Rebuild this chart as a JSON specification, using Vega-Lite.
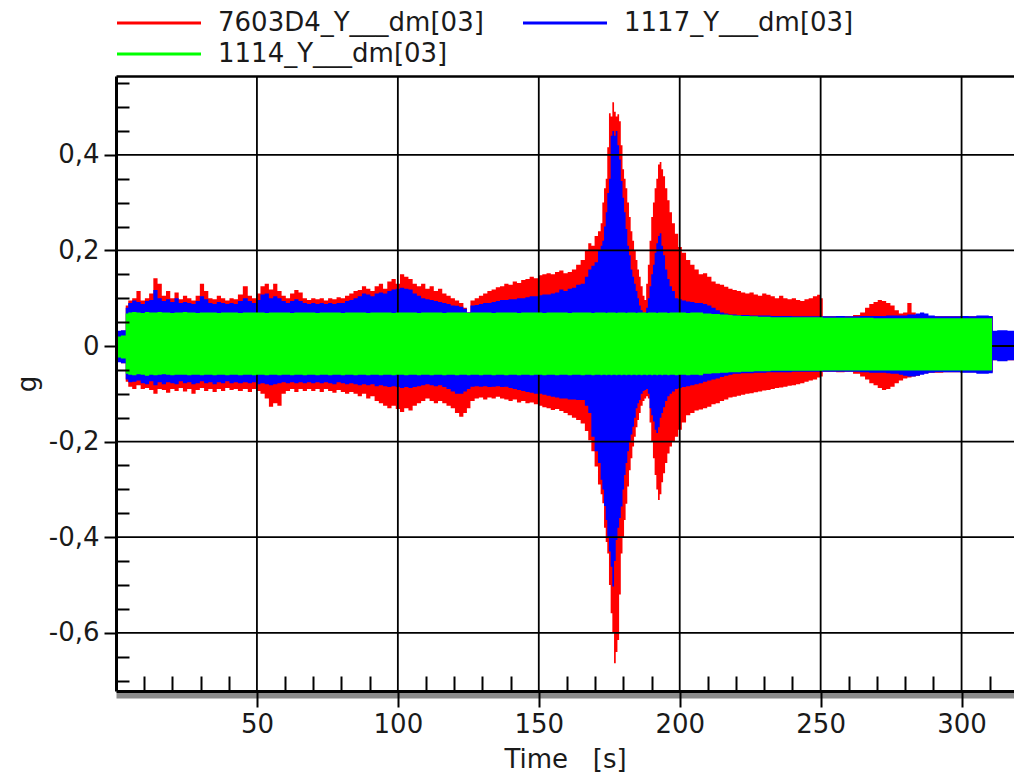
{
  "$schema": "https://vega.github.io/schema/vega-lite/v6.json",
  "width": 898,
  "height": 615,
  "autosize": {"type": "none"},
  "padding": {"left": 116, "top": 76, "right": 0, "bottom": 86},
  "background": "white",
  "config": {
    "view": {"stroke": null},
    "font": "DejaVu Sans",
    "axis": {"labelFont": "DejaVu Sans", "titleFont": "DejaVu Sans"},
    "legend": {"labelFont": "DejaVu Sans"}
  },
  "datasets": {
    "sig": [
      {"t":0.3,"rh":0.03,"rl":-0.032,"bh":0.032,"bl":-0.034,"gh":0.02,"gl":-0.024},
      {"t":3.2,"rh":0.032,"rl":-0.036,"bh":0.033,"bl":-0.036,"gh":0.022,"gl":-0.026},
      {"t":3.7,"rh":0.085,"rl":-0.075,"bh":0.08,"bl":-0.07,"gh":0.068,"gl":-0.058},
      {"t":5,"rh":0.095,"rl":-0.085,"bh":0.09,"bl":-0.076,"gh":0.07,"gl":-0.06},
      {"t":6.5,"rh":0.1,"rl":-0.09,"bh":0.095,"bl":-0.075,"gh":0.071,"gl":-0.061},
      {"t":8,"rh":0.115,"rl":-0.082,"bh":0.092,"bl":-0.072,"gh":0.07,"gl":-0.059},
      {"t":9.5,"rh":0.095,"rl":-0.09,"bh":0.088,"bl":-0.078,"gh":0.069,"gl":-0.06},
      {"t":11,"rh":0.1,"rl":-0.088,"bh":0.094,"bl":-0.08,"gh":0.071,"gl":-0.062},
      {"t":12.5,"rh":0.11,"rl":-0.092,"bh":0.096,"bl":-0.074,"gh":0.07,"gl":-0.06},
      {"t":14,"rh":0.142,"rl":-0.1,"bh":0.117,"bl":-0.082,"gh":0.07,"gl":-0.061},
      {"t":15.5,"rh":0.13,"rl":-0.09,"bh":0.1,"bl":-0.076,"gh":0.071,"gl":-0.06},
      {"t":17,"rh":0.105,"rl":-0.092,"bh":0.094,"bl":-0.08,"gh":0.07,"gl":-0.059},
      {"t":18.5,"rh":0.115,"rl":-0.098,"bh":0.098,"bl":-0.076,"gh":0.07,"gl":-0.06},
      {"t":20,"rh":0.1,"rl":-0.09,"bh":0.092,"bl":-0.078,"gh":0.069,"gl":-0.061},
      {"t":21.5,"rh":0.112,"rl":-0.094,"bh":0.1,"bl":-0.08,"gh":0.07,"gl":-0.06},
      {"t":23,"rh":0.098,"rl":-0.088,"bh":0.09,"bl":-0.074,"gh":0.07,"gl":-0.06},
      {"t":24.5,"rh":0.105,"rl":-0.095,"bh":0.092,"bl":-0.078,"gh":0.071,"gl":-0.06},
      {"t":26,"rh":0.1,"rl":-0.09,"bh":0.09,"bl":-0.076,"gh":0.07,"gl":-0.061},
      {"t":27.5,"rh":0.095,"rl":-0.1,"bh":0.088,"bl":-0.08,"gh":0.07,"gl":-0.06},
      {"t":29,"rh":0.105,"rl":-0.092,"bh":0.094,"bl":-0.078,"gh":0.069,"gl":-0.06},
      {"t":30.5,"rh":0.13,"rl":-0.088,"bh":0.104,"bl":-0.074,"gh":0.07,"gl":-0.061},
      {"t":32,"rh":0.115,"rl":-0.094,"bh":0.098,"bl":-0.078,"gh":0.07,"gl":-0.06},
      {"t":33.5,"rh":0.1,"rl":-0.09,"bh":0.09,"bl":-0.076,"gh":0.07,"gl":-0.06},
      {"t":35,"rh":0.098,"rl":-0.096,"bh":0.088,"bl":-0.08,"gh":0.07,"gl":-0.061},
      {"t":36.5,"rh":0.105,"rl":-0.09,"bh":0.092,"bl":-0.076,"gh":0.069,"gl":-0.06},
      {"t":38,"rh":0.1,"rl":-0.094,"bh":0.09,"bl":-0.078,"gh":0.07,"gl":-0.06},
      {"t":39.5,"rh":0.095,"rl":-0.088,"bh":0.088,"bl":-0.074,"gh":0.07,"gl":-0.061},
      {"t":41,"rh":0.1,"rl":-0.092,"bh":0.09,"bl":-0.078,"gh":0.07,"gl":-0.06},
      {"t":42.5,"rh":0.098,"rl":-0.09,"bh":0.088,"bl":-0.076,"gh":0.07,"gl":-0.06},
      {"t":44,"rh":0.108,"rl":-0.094,"bh":0.094,"bl":-0.078,"gh":0.069,"gl":-0.061},
      {"t":46,"rh":0.125,"rl":-0.09,"bh":0.1,"bl":-0.076,"gh":0.07,"gl":-0.06},
      {"t":47.5,"rh":0.105,"rl":-0.096,"bh":0.094,"bl":-0.078,"gh":0.07,"gl":-0.06},
      {"t":49,"rh":0.1,"rl":-0.09,"bh":0.09,"bl":-0.076,"gh":0.07,"gl":-0.061},
      {"t":50.5,"rh":0.11,"rl":-0.094,"bh":0.096,"bl":-0.08,"gh":0.07,"gl":-0.06},
      {"t":52,"rh":0.125,"rl":-0.1,"bh":0.108,"bl":-0.078,"gh":0.07,"gl":-0.06},
      {"t":53.5,"rh":0.13,"rl":-0.11,"bh":0.11,"bl":-0.08,"gh":0.069,"gl":-0.061},
      {"t":55,"rh":0.118,"rl":-0.127,"bh":0.1,"bl":-0.082,"gh":0.07,"gl":-0.06},
      {"t":56.5,"rh":0.13,"rl":-0.12,"bh":0.104,"bl":-0.08,"gh":0.07,"gl":-0.06},
      {"t":58,"rh":0.115,"rl":-0.125,"bh":0.1,"bl":-0.078,"gh":0.07,"gl":-0.061},
      {"t":59.5,"rh":0.105,"rl":-0.1,"bh":0.094,"bl":-0.076,"gh":0.07,"gl":-0.06},
      {"t":61,"rh":0.1,"rl":-0.094,"bh":0.09,"bl":-0.078,"gh":0.07,"gl":-0.06},
      {"t":62.5,"rh":0.11,"rl":-0.09,"bh":0.094,"bl":-0.076,"gh":0.069,"gl":-0.061},
      {"t":64,"rh":0.117,"rl":-0.096,"bh":0.098,"bl":-0.078,"gh":0.07,"gl":-0.06},
      {"t":65.5,"rh":0.112,"rl":-0.09,"bh":0.094,"bl":-0.076,"gh":0.07,"gl":-0.06},
      {"t":67,"rh":0.1,"rl":-0.094,"bh":0.09,"bl":-0.078,"gh":0.07,"gl":-0.061},
      {"t":68.5,"rh":0.096,"rl":-0.09,"bh":0.088,"bl":-0.076,"gh":0.07,"gl":-0.06},
      {"t":70,"rh":0.1,"rl":-0.094,"bh":0.09,"bl":-0.078,"gh":0.07,"gl":-0.06},
      {"t":71.5,"rh":0.098,"rl":-0.09,"bh":0.088,"bl":-0.076,"gh":0.069,"gl":-0.061},
      {"t":73,"rh":0.1,"rl":-0.096,"bh":0.09,"bl":-0.078,"gh":0.07,"gl":-0.06},
      {"t":74.5,"rh":0.095,"rl":-0.09,"bh":0.088,"bl":-0.076,"gh":0.07,"gl":-0.06},
      {"t":76,"rh":0.1,"rl":-0.094,"bh":0.09,"bl":-0.078,"gh":0.07,"gl":-0.061},
      {"t":77.5,"rh":0.098,"rl":-0.098,"bh":0.088,"bl":-0.08,"gh":0.07,"gl":-0.06},
      {"t":79,"rh":0.102,"rl":-0.092,"bh":0.09,"bl":-0.076,"gh":0.07,"gl":-0.06},
      {"t":80.5,"rh":0.1,"rl":-0.096,"bh":0.09,"bl":-0.078,"gh":0.069,"gl":-0.061},
      {"t":82,"rh":0.105,"rl":-0.1,"bh":0.094,"bl":-0.08,"gh":0.07,"gl":-0.06},
      {"t":83.5,"rh":0.11,"rl":-0.096,"bh":0.096,"bl":-0.078,"gh":0.07,"gl":-0.06},
      {"t":85,"rh":0.115,"rl":-0.1,"bh":0.1,"bl":-0.08,"gh":0.07,"gl":-0.061},
      {"t":86.5,"rh":0.117,"rl":-0.105,"bh":0.104,"bl":-0.082,"gh":0.07,"gl":-0.06},
      {"t":88,"rh":0.125,"rl":-0.1,"bh":0.11,"bl":-0.08,"gh":0.07,"gl":-0.06},
      {"t":89.5,"rh":0.12,"rl":-0.11,"bh":0.108,"bl":-0.082,"gh":0.069,"gl":-0.061},
      {"t":91,"rh":0.115,"rl":-0.105,"bh":0.104,"bl":-0.08,"gh":0.07,"gl":-0.06},
      {"t":92.5,"rh":0.125,"rl":-0.115,"bh":0.11,"bl":-0.084,"gh":0.07,"gl":-0.06},
      {"t":94,"rh":0.13,"rl":-0.12,"bh":0.112,"bl":-0.082,"gh":0.07,"gl":-0.061},
      {"t":95.5,"rh":0.12,"rl":-0.125,"bh":0.11,"bl":-0.084,"gh":0.07,"gl":-0.06},
      {"t":97,"rh":0.135,"rl":-0.13,"bh":0.115,"bl":-0.086,"gh":0.07,"gl":-0.06},
      {"t":98.5,"rh":0.14,"rl":-0.125,"bh":0.118,"bl":-0.084,"gh":0.069,"gl":-0.061},
      {"t":100,"rh":0.13,"rl":-0.132,"bh":0.12,"bl":-0.086,"gh":0.07,"gl":-0.06},
      {"t":101.5,"rh":0.15,"rl":-0.138,"bh":0.122,"bl":-0.088,"gh":0.07,"gl":-0.06},
      {"t":103,"rh":0.145,"rl":-0.13,"bh":0.12,"bl":-0.086,"gh":0.07,"gl":-0.061},
      {"t":104.5,"rh":0.14,"rl":-0.135,"bh":0.118,"bl":-0.088,"gh":0.07,"gl":-0.06},
      {"t":106,"rh":0.13,"rl":-0.125,"bh":0.11,"bl":-0.086,"gh":0.07,"gl":-0.06},
      {"t":107.5,"rh":0.125,"rl":-0.12,"bh":0.105,"bl":-0.084,"gh":0.069,"gl":-0.061},
      {"t":109,"rh":0.13,"rl":-0.115,"bh":0.1,"bl":-0.082,"gh":0.07,"gl":-0.06},
      {"t":110.5,"rh":0.12,"rl":-0.11,"bh":0.098,"bl":-0.08,"gh":0.07,"gl":-0.06},
      {"t":112,"rh":0.125,"rl":-0.115,"bh":0.096,"bl":-0.082,"gh":0.07,"gl":-0.061},
      {"t":113.5,"rh":0.115,"rl":-0.12,"bh":0.094,"bl":-0.084,"gh":0.07,"gl":-0.06},
      {"t":115,"rh":0.12,"rl":-0.115,"bh":0.092,"bl":-0.082,"gh":0.07,"gl":-0.06},
      {"t":116.5,"rh":0.11,"rl":-0.12,"bh":0.09,"bl":-0.086,"gh":0.069,"gl":-0.061},
      {"t":118,"rh":0.105,"rl":-0.125,"bh":0.088,"bl":-0.09,"gh":0.07,"gl":-0.06},
      {"t":119.5,"rh":0.1,"rl":-0.13,"bh":0.085,"bl":-0.095,"gh":0.07,"gl":-0.06},
      {"t":121,"rh":0.095,"rl":-0.14,"bh":0.084,"bl":-0.1,"gh":0.07,"gl":-0.061},
      {"t":122.5,"rh":0.09,"rl":-0.148,"bh":0.082,"bl":-0.1,"gh":0.07,"gl":-0.06},
      {"t":124,"rh":0.08,"rl":-0.14,"bh":0.078,"bl":-0.095,"gh":0.07,"gl":-0.06},
      {"t":125,"rh":0.07,"rl":-0.13,"bh":0.07,"bl":-0.09,"gh":0.069,"gl":-0.061},
      {"t":126.5,"rh":0.095,"rl":-0.115,"bh":0.085,"bl":-0.085,"gh":0.07,"gl":-0.06},
      {"t":128,"rh":0.1,"rl":-0.11,"bh":0.086,"bl":-0.084,"gh":0.07,"gl":-0.06},
      {"t":129.5,"rh":0.105,"rl":-0.108,"bh":0.088,"bl":-0.085,"gh":0.07,"gl":-0.061},
      {"t":131,"rh":0.11,"rl":-0.112,"bh":0.09,"bl":-0.084,"gh":0.07,"gl":-0.06},
      {"t":132.5,"rh":0.115,"rl":-0.108,"bh":0.09,"bl":-0.086,"gh":0.07,"gl":-0.06},
      {"t":134,"rh":0.118,"rl":-0.11,"bh":0.092,"bl":-0.085,"gh":0.069,"gl":-0.061},
      {"t":135.5,"rh":0.123,"rl":-0.106,"bh":0.094,"bl":-0.084,"gh":0.07,"gl":-0.06},
      {"t":137,"rh":0.125,"rl":-0.11,"bh":0.096,"bl":-0.086,"gh":0.07,"gl":-0.06},
      {"t":138.5,"rh":0.13,"rl":-0.112,"bh":0.096,"bl":-0.085,"gh":0.07,"gl":-0.061},
      {"t":140,"rh":0.128,"rl":-0.115,"bh":0.098,"bl":-0.088,"gh":0.07,"gl":-0.06},
      {"t":141.5,"rh":0.135,"rl":-0.112,"bh":0.098,"bl":-0.09,"gh":0.07,"gl":-0.06},
      {"t":143,"rh":0.132,"rl":-0.118,"bh":0.1,"bl":-0.092,"gh":0.069,"gl":-0.061},
      {"t":144.5,"rh":0.138,"rl":-0.115,"bh":0.1,"bl":-0.094,"gh":0.07,"gl":-0.06},
      {"t":146,"rh":0.14,"rl":-0.12,"bh":0.102,"bl":-0.096,"gh":0.07,"gl":-0.06},
      {"t":147.5,"rh":0.145,"rl":-0.118,"bh":0.104,"bl":-0.098,"gh":0.07,"gl":-0.061},
      {"t":149,"rh":0.142,"rl":-0.122,"bh":0.104,"bl":-0.1,"gh":0.07,"gl":-0.06},
      {"t":150.5,"rh":0.148,"rl":-0.125,"bh":0.106,"bl":-0.1,"gh":0.07,"gl":-0.06},
      {"t":152,"rh":0.15,"rl":-0.128,"bh":0.108,"bl":-0.102,"gh":0.069,"gl":-0.061},
      {"t":153.5,"rh":0.152,"rl":-0.13,"bh":0.108,"bl":-0.104,"gh":0.07,"gl":-0.06},
      {"t":155,"rh":0.15,"rl":-0.134,"bh":0.11,"bl":-0.106,"gh":0.07,"gl":-0.06},
      {"t":156.5,"rh":0.155,"rl":-0.132,"bh":0.112,"bl":-0.108,"gh":0.07,"gl":-0.061},
      {"t":158,"rh":0.158,"rl":-0.136,"bh":0.118,"bl":-0.11,"gh":0.07,"gl":-0.06},
      {"t":159.5,"rh":0.152,"rl":-0.14,"bh":0.115,"bl":-0.11,"gh":0.07,"gl":-0.06},
      {"t":161,"rh":0.155,"rl":-0.145,"bh":0.12,"bl":-0.112,"gh":0.069,"gl":-0.061},
      {"t":162.5,"rh":0.16,"rl":-0.15,"bh":0.122,"bl":-0.112,"gh":0.07,"gl":-0.06},
      {"t":164,"rh":0.17,"rl":-0.155,"bh":0.128,"bl":-0.113,"gh":0.07,"gl":-0.06},
      {"t":165.7,"rh":0.18,"rl":-0.162,"bh":0.13,"bl":-0.113,"gh":0.07,"gl":-0.061},
      {"t":167,"rh":0.2,"rl":-0.178,"bh":0.145,"bl":-0.125,"gh":0.07,"gl":-0.06},
      {"t":168.1,"rh":0.215,"rl":-0.197,"bh":0.16,"bl":-0.14,"gh":0.07,"gl":-0.06},
      {"t":169.2,"rh":0.21,"rl":-0.22,"bh":0.168,"bl":-0.19,"gh":0.069,"gl":-0.061},
      {"t":170.4,"rh":0.23,"rl":-0.252,"bh":0.175,"bl":-0.22,"gh":0.07,"gl":-0.06},
      {"t":171.6,"rh":0.24,"rl":-0.29,"bh":0.2,"bl":-0.245,"gh":0.07,"gl":-0.06},
      {"t":172.3,"rh":0.257,"rl":-0.31,"bh":0.21,"bl":-0.28,"gh":0.07,"gl":-0.061},
      {"t":172.8,"rh":0.3,"rl":-0.329,"bh":0.22,"bl":-0.3,"gh":0.07,"gl":-0.06},
      {"t":173.5,"rh":0.33,"rl":-0.38,"bh":0.25,"bl":-0.335,"gh":0.07,"gl":-0.06},
      {"t":174,"rh":0.35,"rl":-0.41,"bh":0.28,"bl":-0.364,"gh":0.069,"gl":-0.061},
      {"t":174.6,"rh":0.416,"rl":-0.434,"bh":0.32,"bl":-0.4,"gh":0.07,"gl":-0.06},
      {"t":175.2,"rh":0.487,"rl":-0.5,"bh":0.35,"bl":-0.43,"gh":0.07,"gl":-0.06},
      {"t":175.8,"rh":0.48,"rl":-0.559,"bh":0.44,"bl":-0.462,"gh":0.07,"gl":-0.061},
      {"t":176.4,"rh":0.51,"rl":-0.6,"bh":0.45,"bl":-0.503,"gh":0.07,"gl":-0.06},
      {"t":177,"rh":0.49,"rl":-0.664,"bh":0.44,"bl":-0.45,"gh":0.07,"gl":-0.06},
      {"t":177.6,"rh":0.48,"rl":-0.64,"bh":0.45,"bl":-0.406,"gh":0.069,"gl":-0.061},
      {"t":178.2,"rh":0.485,"rl":-0.615,"bh":0.42,"bl":-0.38,"gh":0.07,"gl":-0.06},
      {"t":178.8,"rh":0.47,"rl":-0.52,"bh":0.39,"bl":-0.36,"gh":0.07,"gl":-0.06},
      {"t":179.4,"rh":0.42,"rl":-0.434,"bh":0.345,"bl":-0.336,"gh":0.07,"gl":-0.061},
      {"t":180,"rh":0.37,"rl":-0.4,"bh":0.31,"bl":-0.3,"gh":0.07,"gl":-0.06},
      {"t":180.5,"rh":0.35,"rl":-0.364,"bh":0.28,"bl":-0.27,"gh":0.07,"gl":-0.06},
      {"t":181.1,"rh":0.33,"rl":-0.33,"bh":0.245,"bl":-0.245,"gh":0.069,"gl":-0.061},
      {"t":181.7,"rh":0.3,"rl":-0.294,"bh":0.21,"bl":-0.22,"gh":0.07,"gl":-0.06},
      {"t":182.3,"rh":0.27,"rl":-0.26,"bh":0.19,"bl":-0.2,"gh":0.07,"gl":-0.06},
      {"t":182.9,"rh":0.24,"rl":-0.235,"bh":0.16,"bl":-0.185,"gh":0.07,"gl":-0.061},
      {"t":183.5,"rh":0.22,"rl":-0.21,"bh":0.145,"bl":-0.169,"gh":0.07,"gl":-0.06},
      {"t":184.1,"rh":0.2,"rl":-0.19,"bh":0.13,"bl":-0.15,"gh":0.07,"gl":-0.06},
      {"t":184.7,"rh":0.18,"rl":-0.17,"bh":0.115,"bl":-0.13,"gh":0.069,"gl":-0.061},
      {"t":185.3,"rh":0.16,"rl":-0.155,"bh":0.1,"bl":-0.12,"gh":0.07,"gl":-0.06},
      {"t":185.8,"rh":0.145,"rl":-0.14,"bh":0.085,"bl":-0.113,"gh":0.07,"gl":-0.06},
      {"t":186.5,"rh":0.125,"rl":-0.125,"bh":0.075,"bl":-0.1,"gh":0.07,"gl":-0.061},
      {"t":187.2,"rh":0.105,"rl":-0.115,"bh":0.07,"bl":-0.094,"gh":0.07,"gl":-0.06},
      {"t":187.8,"rh":0.096,"rl":-0.11,"bh":0.07,"bl":-0.092,"gh":0.07,"gl":-0.06},
      {"t":188.4,"rh":0.13,"rl":-0.105,"bh":0.08,"bl":-0.09,"gh":0.069,"gl":-0.061},
      {"t":189,"rh":0.17,"rl":-0.11,"bh":0.1,"bl":-0.1,"gh":0.07,"gl":-0.06},
      {"t":189.6,"rh":0.22,"rl":-0.16,"bh":0.125,"bl":-0.13,"gh":0.07,"gl":-0.06},
      {"t":190.2,"rh":0.27,"rl":-0.2,"bh":0.15,"bl":-0.145,"gh":0.07,"gl":-0.061},
      {"t":190.8,"rh":0.3,"rl":-0.235,"bh":0.17,"bl":-0.158,"gh":0.07,"gl":-0.06},
      {"t":191.4,"rh":0.33,"rl":-0.27,"bh":0.195,"bl":-0.175,"gh":0.07,"gl":-0.06},
      {"t":192,"rh":0.35,"rl":-0.3,"bh":0.215,"bl":-0.182,"gh":0.069,"gl":-0.061},
      {"t":192.6,"rh":0.38,"rl":-0.322,"bh":0.23,"bl":-0.17,"gh":0.07,"gl":-0.06},
      {"t":193.2,"rh":0.385,"rl":-0.31,"bh":0.236,"bl":-0.15,"gh":0.07,"gl":-0.06},
      {"t":193.8,"rh":0.37,"rl":-0.285,"bh":0.21,"bl":-0.14,"gh":0.07,"gl":-0.061},
      {"t":194.4,"rh":0.355,"rl":-0.266,"bh":0.19,"bl":-0.128,"gh":0.07,"gl":-0.06},
      {"t":195.2,"rh":0.33,"rl":-0.245,"bh":0.16,"bl":-0.115,"gh":0.07,"gl":-0.06},
      {"t":196,"rh":0.305,"rl":-0.225,"bh":0.14,"bl":-0.105,"gh":0.069,"gl":-0.061},
      {"t":196.8,"rh":0.28,"rl":-0.21,"bh":0.125,"bl":-0.1,"gh":0.07,"gl":-0.06},
      {"t":197.7,"rh":0.257,"rl":-0.2,"bh":0.115,"bl":-0.095,"gh":0.07,"gl":-0.06},
      {"t":198.9,"rh":0.235,"rl":-0.19,"bh":0.1,"bl":-0.09,"gh":0.07,"gl":-0.061},
      {"t":200,"rh":0.207,"rl":-0.175,"bh":0.098,"bl":-0.088,"gh":0.07,"gl":-0.06},
      {"t":201.5,"rh":0.195,"rl":-0.16,"bh":0.095,"bl":-0.086,"gh":0.07,"gl":-0.06},
      {"t":203,"rh":0.18,"rl":-0.145,"bh":0.093,"bl":-0.084,"gh":0.069,"gl":-0.061},
      {"t":204.5,"rh":0.17,"rl":-0.14,"bh":0.092,"bl":-0.082,"gh":0.07,"gl":-0.06},
      {"t":206,"rh":0.16,"rl":-0.135,"bh":0.09,"bl":-0.08,"gh":0.07,"gl":-0.06},
      {"t":207.5,"rh":0.15,"rl":-0.133,"bh":0.09,"bl":-0.078,"gh":0.07,"gl":-0.061},
      {"t":209,"rh":0.152,"rl":-0.13,"bh":0.088,"bl":-0.075,"gh":0.068,"gl":-0.058},
      {"t":210.5,"rh":0.145,"rl":-0.127,"bh":0.085,"bl":-0.072,"gh":0.068,"gl":-0.058},
      {"t":212,"rh":0.135,"rl":-0.122,"bh":0.08,"bl":-0.07,"gh":0.067,"gl":-0.057},
      {"t":213.5,"rh":0.13,"rl":-0.12,"bh":0.075,"bl":-0.068,"gh":0.067,"gl":-0.057},
      {"t":215,"rh":0.128,"rl":-0.115,"bh":0.07,"bl":-0.065,"gh":0.066,"gl":-0.056},
      {"t":216.5,"rh":0.124,"rl":-0.112,"bh":0.068,"bl":-0.062,"gh":0.066,"gl":-0.056},
      {"t":218,"rh":0.12,"rl":-0.108,"bh":0.066,"bl":-0.06,"gh":0.065,"gl":-0.055},
      {"t":219.5,"rh":0.117,"rl":-0.106,"bh":0.066,"bl":-0.058,"gh":0.064,"gl":-0.055},
      {"t":221,"rh":0.115,"rl":-0.104,"bh":0.065,"bl":-0.058,"gh":0.064,"gl":-0.055},
      {"t":222.5,"rh":0.112,"rl":-0.102,"bh":0.065,"bl":-0.057,"gh":0.063,"gl":-0.054},
      {"t":224,"rh":0.11,"rl":-0.1,"bh":0.065,"bl":-0.057,"gh":0.063,"gl":-0.054},
      {"t":225.5,"rh":0.112,"rl":-0.099,"bh":0.064,"bl":-0.057,"gh":0.062,"gl":-0.054},
      {"t":227,"rh":0.108,"rl":-0.097,"bh":0.064,"bl":-0.056,"gh":0.062,"gl":-0.053},
      {"t":228.5,"rh":0.105,"rl":-0.095,"bh":0.064,"bl":-0.056,"gh":0.061,"gl":-0.053},
      {"t":230,"rh":0.11,"rl":-0.093,"bh":0.064,"bl":-0.056,"gh":0.061,"gl":-0.053},
      {"t":231.5,"rh":0.107,"rl":-0.092,"bh":0.064,"bl":-0.055,"gh":0.061,"gl":-0.053},
      {"t":233,"rh":0.104,"rl":-0.09,"bh":0.063,"bl":-0.055,"gh":0.06,"gl":-0.052},
      {"t":234.5,"rh":0.1,"rl":-0.088,"bh":0.063,"bl":-0.055,"gh":0.06,"gl":-0.052},
      {"t":236,"rh":0.105,"rl":-0.087,"bh":0.063,"bl":-0.055,"gh":0.06,"gl":-0.052},
      {"t":237.5,"rh":0.1,"rl":-0.085,"bh":0.063,"bl":-0.055,"gh":0.06,"gl":-0.052},
      {"t":239,"rh":0.098,"rl":-0.083,"bh":0.063,"bl":-0.055,"gh":0.06,"gl":-0.052},
      {"t":240.5,"rh":0.1,"rl":-0.082,"bh":0.062,"bl":-0.054,"gh":0.06,"gl":-0.052},
      {"t":242,"rh":0.096,"rl":-0.08,"bh":0.062,"bl":-0.054,"gh":0.06,"gl":-0.052},
      {"t":243.5,"rh":0.094,"rl":-0.078,"bh":0.062,"bl":-0.054,"gh":0.06,"gl":-0.052},
      {"t":245,"rh":0.098,"rl":-0.075,"bh":0.062,"bl":-0.054,"gh":0.06,"gl":-0.052},
      {"t":246.5,"rh":0.1,"rl":-0.072,"bh":0.062,"bl":-0.054,"gh":0.06,"gl":-0.052},
      {"t":248,"rh":0.104,"rl":-0.07,"bh":0.062,"bl":-0.054,"gh":0.06,"gl":-0.052},
      {"t":249.5,"rh":0.107,"rl":-0.066,"bh":0.062,"bl":-0.054,"gh":0.06,"gl":-0.052},
      {"t":250.5,"rh":0.1,"rl":-0.064,"bh":0.062,"bl":-0.054,"gh":0.06,"gl":-0.052},
      {"t":251,"rh":0.062,"rl":-0.054,"bh":0.062,"bl":-0.054,"gh":0.059,"gl":-0.051},
      {"t":254,"rh":0.062,"rl":-0.054,"bh":0.062,"bl":-0.054,"gh":0.059,"gl":-0.051},
      {"t":257,"rh":0.063,"rl":-0.055,"bh":0.063,"bl":-0.054,"gh":0.059,"gl":-0.051},
      {"t":260,"rh":0.062,"rl":-0.054,"bh":0.062,"bl":-0.054,"gh":0.059,"gl":-0.051},
      {"t":263,"rh":0.065,"rl":-0.058,"bh":0.062,"bl":-0.054,"gh":0.059,"gl":-0.051},
      {"t":265,"rh":0.07,"rl":-0.064,"bh":0.063,"bl":-0.055,"gh":0.059,"gl":-0.051},
      {"t":266.5,"rh":0.08,"rl":-0.07,"bh":0.063,"bl":-0.055,"gh":0.059,"gl":-0.051},
      {"t":268,"rh":0.088,"rl":-0.078,"bh":0.063,"bl":-0.056,"gh":0.059,"gl":-0.051},
      {"t":269.5,"rh":0.092,"rl":-0.082,"bh":0.063,"bl":-0.056,"gh":0.058,"gl":-0.051},
      {"t":271,"rh":0.096,"rl":-0.088,"bh":0.063,"bl":-0.056,"gh":0.058,"gl":-0.051},
      {"t":272.5,"rh":0.094,"rl":-0.092,"bh":0.063,"bl":-0.056,"gh":0.058,"gl":-0.051},
      {"t":274,"rh":0.09,"rl":-0.09,"bh":0.064,"bl":-0.057,"gh":0.058,"gl":-0.051},
      {"t":275.5,"rh":0.085,"rl":-0.085,"bh":0.064,"bl":-0.058,"gh":0.058,"gl":-0.051},
      {"t":277,"rh":0.075,"rl":-0.078,"bh":0.064,"bl":-0.058,"gh":0.058,"gl":-0.051},
      {"t":278.5,"rh":0.068,"rl":-0.072,"bh":0.064,"bl":-0.06,"gh":0.058,"gl":-0.051},
      {"t":280,"rh":0.07,"rl":-0.068,"bh":0.064,"bl":-0.062,"gh":0.058,"gl":-0.051},
      {"t":281.5,"rh":0.09,"rl":-0.066,"bh":0.066,"bl":-0.064,"gh":0.058,"gl":-0.051},
      {"t":283,"rh":0.07,"rl":-0.064,"bh":0.066,"bl":-0.064,"gh":0.058,"gl":-0.051},
      {"t":284.5,"rh":0.065,"rl":-0.062,"bh":0.068,"bl":-0.062,"gh":0.058,"gl":-0.051},
      {"t":286,"rh":0.064,"rl":-0.058,"bh":0.07,"bl":-0.06,"gh":0.058,"gl":-0.051},
      {"t":287.5,"rh":0.063,"rl":-0.057,"bh":0.068,"bl":-0.058,"gh":0.058,"gl":-0.051},
      {"t":289,"rh":0.062,"rl":-0.056,"bh":0.064,"bl":-0.056,"gh":0.058,"gl":-0.051},
      {"t":292,"rh":0.062,"rl":-0.056,"bh":0.062,"bl":-0.055,"gh":0.058,"gl":-0.051},
      {"t":295,"rh":0.062,"rl":-0.055,"bh":0.062,"bl":-0.055,"gh":0.058,"gl":-0.051},
      {"t":298,"rh":0.062,"rl":-0.055,"bh":0.062,"bl":-0.055,"gh":0.058,"gl":-0.051},
      {"t":301,"rh":0.062,"rl":-0.055,"bh":0.063,"bl":-0.056,"gh":0.058,"gl":-0.051},
      {"t":304,"rh":0.062,"rl":-0.055,"bh":0.062,"bl":-0.056,"gh":0.058,"gl":-0.051},
      {"t":306.5,"rh":0.062,"rl":-0.056,"bh":0.064,"bl":-0.058,"gh":0.058,"gl":-0.051},
      {"t":308.5,"rh":0.062,"rl":-0.056,"bh":0.064,"bl":-0.058,"gh":0.058,"gl":-0.051},
      {"t":310.8,"rh":0.062,"rl":-0.055,"bh":0.063,"bl":-0.057,"gh":0.058,"gl":-0.051},
      {"t":311.3,"rh":0.03,"rl":-0.03,"bh":0.032,"bl":-0.03,"gh":null,"gl":null},
      {"t":314,"rh":0.03,"rl":-0.03,"bh":0.033,"bl":-0.032,"gh":null,"gl":null},
      {"t":318.6,"rh":0.03,"rl":-0.03,"bh":0.032,"bl":-0.03,"gh":null,"gl":null}
    ],
    "gx": [{"x":50},{"x":100},{"x":150},{"x":200},{"x":250},{"x":300}],
    "gy": [{"y":-0.6},{"y":-0.4},{"y":-0.2},{"y":0},{"y":0.2},{"y":0.4}]
  },
  "resolve": {"axis": {"x": "independent", "y": "independent"}},
  "layer": [
    {
      "data": {"name": "sig"},
      "mark": {"type": "area", "interpolate": "step", "opacity": 1},
      "encoding": {
        "x": {
          "field": "t", "type": "quantitative",
          "scale": {"domain": [0, 318.6], "nice": false, "zero": false},
          "axis": {
            "orient": "bottom", "values": [50, 100, 150, 200, 250, 300], "format": "d",
            "tickSize": 16, "tickWidth": 2, "tickColor": "#000",
            "domainColor": "#000", "domainWidth": 3,
            "labelFontSize": 26, "labelColor": "#1a1a1a", "labelPadding": 4,
            "grid": false, "zindex": 2,
            "title": "Time\u00a0\u00a0 [s]", "titleFontSize": 26, "titleFontWeight": "normal",
            "titleColor": "#1a1a1a", "titlePadding": 9
          }
        },
        "y": {
          "field": "rh", "type": "quantitative",
          "scale": {"domain": [-0.7218, 0.5649], "nice": false, "zero": false},
          "axis": {
            "orient": "left", "values": [-0.6, -0.4, -0.2, 0, 0.2, 0.4],
            "labelExpr": "(datum.value < 0 ? '-' : '') + replace(format(abs(datum.value), '~g'), '.', ',')",
            "tickSize": 12, "tickWidth": 2, "tickColor": "#000",
            "domainColor": "#000", "domainWidth": 3,
            "labelFontSize": 26, "labelColor": "#1a1a1a", "labelPadding": 5,
            "grid": false, "zindex": 2,
            "title": "g", "titleFontSize": 26, "titleFontWeight": "normal",
            "titleColor": "#1a1a1a", "titlePadding": 8
          }
        },
        "y2": {"field": "rl"},
        "color": {
          "datum": "7603D4_Y___dm[03]", "type": "nominal",
          "scale": {
            "domain": ["7603D4_Y___dm[03]", "1114_Y___dm[03]", "1117_Y___dm[03]"],
            "range": ["#ff0000", "#00ff00", "#0000ff"]
          },
          "legend": {
            "orient": "none", "legendX": 30, "legendY": -66, "columns": 2,
            "title": null, "padding": 0,
            "symbolType": "M-8,0H8", "symbolSize": 110.25, "symbolStrokeWidth": 3, "symbolOpacity": 1,
            "labelFontSize": 26, "labelColor": "#1a1a1a", "labelOffset": 46, "labelLimit": 500,
            "columnPadding": 33, "rowPadding": 5,
            "encode": {"symbols": {"update": {"stroke": {"scale": "color", "field": "value"}, "strokeWidth": {"value": 3}}}}
          }
        }
      }
    },
    {
      "data": {"name": "sig"},
      "mark": {"type": "area", "interpolate": "step", "opacity": 1},
      "encoding": {
        "x": {
          "field": "t", "type": "quantitative",
          "scale": {"domain": [0, 318.6], "nice": false, "zero": false},
          "axis": {
            "orient": "bottom", "values": [10,20,30,40,60,70,80,90,110,120,130,140,160,170,180,190,210,220,230,240,260,270,280,290,310],
            "tickSize": -15, "tickWidth": 2, "tickColor": "#000",
            "labels": false, "domain": false, "grid": false, "title": null, "zindex": 2
          }
        },
        "y": {
          "field": "bh", "type": "quantitative",
          "scale": {"domain": [-0.7218, 0.5649], "nice": false, "zero": false},
          "axis": {
            "orient": "left", "values": [-0.7,-0.65,-0.55,-0.5,-0.45,-0.35,-0.3,-0.25,-0.15,-0.1,-0.05,0.05,0.1,0.15,0.25,0.3,0.35,0.45,0.5,0.55],
            "tickSize": -13, "tickWidth": 2, "tickColor": "#000",
            "labels": false, "domain": false, "grid": false, "title": null, "zindex": 2
          }
        },
        "y2": {"field": "bl"},
        "color": {"datum": "1117_Y___dm[03]", "type": "nominal"}
      }
    },
    {
      "data": {"name": "gx"},
      "mark": {"type": "rule", "color": "#000", "strokeWidth": 1.8},
      "encoding": {
        "x": {
          "field": "x", "type": "quantitative",
          "scale": {"domain": [0, 318.6], "nice": false, "zero": false},
          "axis": {
            "orient": "top", "ticks": false, "labels": false, "grid": false, "title": null,
            "domainColor": "#000", "domainWidth": 2.5, "zindex": 2
          }
        }
      }
    },
    {
      "data": {"name": "gy"},
      "mark": {"type": "rule", "color": "#000", "strokeWidth": 1.8},
      "encoding": {
        "y": {
          "field": "y", "type": "quantitative",
          "scale": {"domain": [-0.7218, 0.5649], "nice": false, "zero": false},
          "axis": null
        }
      }
    },
    {
      "data": {"name": "sig"},
      "mark": {"type": "area", "interpolate": "step", "opacity": 1},
      "encoding": {
        "x": {
          "field": "t", "type": "quantitative",
          "scale": {"domain": [0, 318.6], "nice": false, "zero": false},
          "axis": {
            "orient": "bottom", "offset": 4, "ticks": false, "labels": false, "grid": false, "title": null,
            "domainColor": "#8c8c8c", "domainWidth": 6, "zindex": 0
          }
        },
        "y": {
          "field": "gh", "type": "quantitative",
          "scale": {"domain": [-0.7218, 0.5649], "nice": false, "zero": false},
          "axis": null
        },
        "y2": {"field": "gl"},
        "color": {"datum": "1114_Y___dm[03]", "type": "nominal"}
      }
    }
  ]
}
